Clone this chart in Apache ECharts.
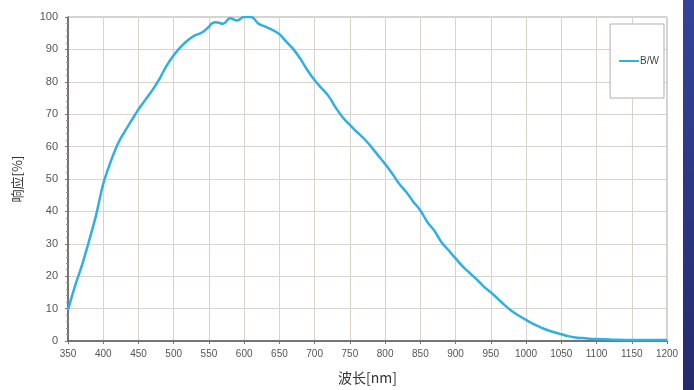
<!DOCTYPE html>
<html>
<head>
<meta charset="utf-8">
<script src="https://cdn.jsdelivr.net/npm/echarts@6/dist/echarts.min.js"></script>
<style>
html,body{margin:0;padding:0;background:#fff;}
#c{width:694px;height:390px;}
</style>
</head>
<body>
<div id="c"></div>
<script>
const wavelengths = [350,360,370,380,390,400,410,420,430,440,450,460,470,480,490,500,510,520,530,540,550,554,560,570,580,590,600,610,620,630,640,650,660,670,680,690,700,710,720,730,740,750,760,770,780,790,800,810,820,830,840,850,860,870,880,890,900,910,920,930,940,950,960,970,980,990,1000,1010,1020,1030,1040,1050,1060,1070,1080,1090,1100,1120,1150,1200];
const response = [9.5,17,23.5,31,39,48.5,55,60.5,64.5,68,71.5,74.5,77.5,81,85,88.2,90.8,92.8,94.3,95.2,97,98,98.4,97.9,99.6,98.9,100,100,98,97,96,94.7,92.3,90,87,83.5,80.5,78,75.5,72,69,66.7,64.5,62.5,60,57.3,54.6,51.7,48.5,46,43,40.3,36.7,34,30.5,28,25.5,23,21,19,16.8,15,13,11,9.2,7.8,6.5,5.3,4.3,3.4,2.7,2.1,1.5,1.1,0.9,0.7,0.6,0.45,0.3,0.3];
const seriesName = 'B/W';
const xName = '波长[nm]';
const yName = '响应[%]';

const chart = echarts.init(document.getElementById('c'));
const pts = wavelengths.map((w,i)=>[w,response[i]]);
chart.setOption({
  animation:false,
  backgroundColor:'#ffffff',
  graphic:[{
    type:'rect', shape:{x:683,y:0,width:11,height:390},
    style:{fill:new echarts.graphic.LinearGradient(0,0,0,1,[{offset:0,color:'#34449a'},{offset:1,color:'#252a6c'}])},
    z:-1
  }],
  grid:{left:68,right:27,top:17,bottom:47,show:true,borderColor:'#a8a8a8',borderWidth:1},
  legend:{
    right:30, top:24, orient:'vertical',
    data:[seriesName],
    padding:[32,5,32,8],
    borderColor:'#b0b0b0', borderWidth:1, backgroundColor:'#fff',
    itemWidth:20, itemHeight:3,
    textStyle:{fontSize:10,color:'#444',fontFamily:'Liberation Sans, Arial',padding:[0,0,0,-4]}
  },
  xAxis:{
    type:'value', min:350, max:1200, interval:50,
    name:xName, nameLocation:'middle', nameGap:30,
    nameTextStyle:{fontSize:14,color:'#333',fontFamily:'Noto Sans CJK SC'},
    axisLine:{lineStyle:{color:'#555',width:1.5}},
    axisTick:{show:true,length:3,lineStyle:{color:'#777'}},
    axisLabel:{fontSize:10,color:'#555',fontFamily:'Liberation Sans, Arial',margin:8,formatter:(v)=>String(v)},
    splitLine:{show:true,lineStyle:{color:'#d9d3cd',width:1}}
  },
  yAxis:{
    type:'value', min:0, max:100, interval:10,
    name:yName, nameLocation:'middle', nameGap:44, nameRotate:90,
    nameTextStyle:{fontSize:13,color:'#333',fontFamily:'Noto Sans CJK SC'},
    axisLine:{show:true,lineStyle:{color:'#555',width:1.5}},
    axisTick:{show:true,length:3,lineStyle:{color:'#777'}},
    minorTick:{show:true,splitNumber:5,length:2,lineStyle:{color:'#999'}},
    axisLabel:{fontSize:11,color:'#555',fontFamily:'Liberation Sans, Arial',margin:10},
    splitLine:{show:true,lineStyle:{color:'#d9d3cd',width:1}}
  },
  series:[{
    name:seriesName, type:'line', data:pts, smooth:0.4, symbol:'none',
    lineStyle:{color:'#2fb0e0',width:2.5},
    itemStyle:{color:'#2fb0e0'}
  }]
});
</script>
</body>
</html>
